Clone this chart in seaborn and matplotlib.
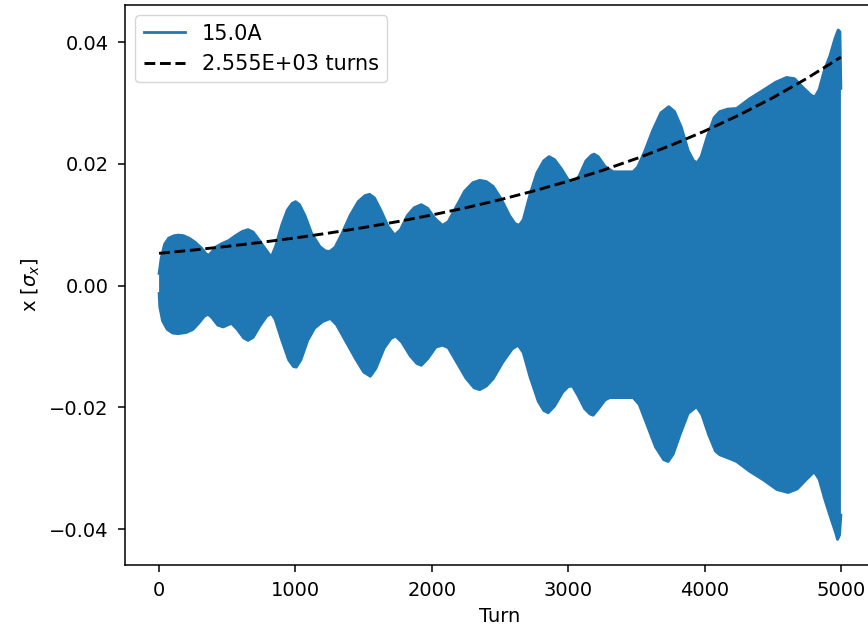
import numpy as np
import pandas as pd
import matplotlib
matplotlib.use("Agg")
import matplotlib.pyplot as plt
import seaborn as sns

# Upper envelope of the beam position trace (turn, x)
upper_turns = [0, 15, 40, 70, 110, 140, 180, 220, 260, 310, 345, 365, 385, 420, 460, 510, 560, 610,
               652, 690, 730, 780, 823, 855, 900, 940, 975, 1001, 1030, 1070, 1120, 1180, 1220, 1251,
               1290, 1340, 1400, 1460, 1510, 1544, 1580, 1630, 1680, 1728, 1770, 1820, 1870, 1923,
               1970, 2020, 2078, 2120, 2180, 2240, 2300, 2351, 2400, 2450, 2510, 2570, 2610, 2640,
               2670, 2720, 2770, 2820, 2860, 2900, 2950, 3000, 3036, 3080, 3130, 3170, 3190, 3220,
               3270, 3330, 3475, 3510, 3560, 3620, 3680, 3738, 3780, 3830, 3880, 3920, 3946, 3975,
               4020, 4070, 4112, 4170, 4235, 4330, 4430, 4520, 4601, 4660, 4720, 4780, 4809, 4840,
               4880, 4920, 4955, 4980, 4993, 5000]
upper_vals = [0.0020, 0.0045, 0.0068, 0.0078, 0.0082, 0.0083, 0.0082, 0.0078, 0.0072, 0.0062, 0.0052,
              0.0050, 0.0055, 0.0064, 0.0069, 0.0074, 0.0082, 0.0089, 0.0092, 0.0088, 0.0076, 0.0060,
              0.0047, 0.0065, 0.0100, 0.0124, 0.0135, 0.0138, 0.0133, 0.0115, 0.0085, 0.0064, 0.0057,
              0.0056, 0.0063, 0.0085, 0.0115, 0.0138, 0.0148, 0.0150, 0.0144, 0.0122, 0.0097, 0.0083,
              0.0092, 0.0115, 0.0128, 0.0133, 0.0127, 0.0111, 0.0099, 0.0105, 0.0130, 0.0155, 0.0169,
              0.0173, 0.0171, 0.0163, 0.0142, 0.0115, 0.0102, 0.0099, 0.0108, 0.0150, 0.0185, 0.0205,
              0.0212, 0.0207, 0.0192, 0.0174, 0.0168, 0.0180, 0.0205, 0.0214, 0.0216, 0.0212, 0.0196,
              0.0187, 0.0187, 0.0195, 0.0220, 0.0255, 0.0284, 0.0294, 0.0286, 0.0260, 0.0222, 0.0205,
              0.0202, 0.0212, 0.0245, 0.0276, 0.0286, 0.0290, 0.0291, 0.0307, 0.0321, 0.0334, 0.0342,
              0.0340, 0.0326, 0.0313, 0.0310, 0.0322, 0.0355, 0.0378, 0.0405, 0.0420, 0.0417, 0.0324]

# Lower envelope (turn, x)
lower_turns = [0, 5, 25, 60, 100, 138, 200, 248, 290, 330, 358, 385, 430, 470, 530, 570, 620, 652,
               690, 740, 790, 823, 850, 900, 950, 985, 1006, 1040, 1090, 1140, 1200, 1256, 1300, 1370,
               1440, 1500, 1549, 1590, 1650, 1700, 1735, 1780, 1840, 1890, 1923, 1970, 2030, 2078,
               2120, 2180, 2250, 2310, 2351, 2400, 2450, 2520, 2590, 2633, 2670, 2720, 2780, 2820,
               2853, 2900, 2960, 3000, 3031, 3070, 3120, 3160, 3183, 3220, 3270, 3305, 3476, 3520,
               3580, 3640, 3700, 3733, 3770, 3820, 3880, 3941, 3980, 4030, 4080, 4112, 4170, 4235,
               4330, 4430, 4530, 4613, 4680, 4740, 4804, 4840, 4880, 4930, 4960, 4975, 4990, 5000]
lower_vals = [-0.0013, -0.0035, -0.0058, -0.0072, -0.0078, -0.0079, -0.0077, -0.0072, -0.0062, -0.0051,
              -0.0047, -0.0052, -0.0065, -0.0068, -0.0062, -0.0071, -0.0086, -0.0090, -0.0085, -0.0066,
              -0.0050, -0.0046, -0.0055, -0.0090, -0.0122, -0.0133, -0.0134, -0.0122, -0.0090, -0.0070,
              -0.0059, -0.0054, -0.0064, -0.0092, -0.0120, -0.0142, -0.0149, -0.0136, -0.0103, -0.0087,
              -0.0083, -0.0093, -0.0115, -0.0128, -0.0131, -0.0120, -0.0101, -0.0098, -0.0102, -0.0125,
              -0.0152, -0.0168, -0.0171, -0.0165, -0.0153, -0.0126, -0.0104, -0.0098, -0.0110, -0.0150,
              -0.0190, -0.0205, -0.0209, -0.0198, -0.0175, -0.0166, -0.0165, -0.0180, -0.0202, -0.0211,
              -0.0213, -0.0203, -0.0188, -0.0184, -0.0184, -0.0195, -0.0230, -0.0265, -0.0286, -0.0289,
              -0.0277, -0.0245, -0.0210, -0.0199, -0.0212, -0.0245, -0.0272, -0.0278, -0.0283, -0.0289,
              -0.0305, -0.0319, -0.0335, -0.0340, -0.0334, -0.0320, -0.0306, -0.0318, -0.0350, -0.0385,
              -0.0405, -0.0417, -0.0410, -0.0377]

# Exponential growth fit
fit_turns = [0, 250, 500, 750, 1000, 1250, 1500, 1750, 2000, 2250, 2500, 2750, 3000, 3250, 3500,
             3750, 4000, 4250, 4500, 4750, 5000]
fit_vals = [0.00530, 0.00584, 0.00645, 0.00711, 0.00784, 0.00865, 0.00954, 0.01052, 0.01160, 0.01279,
            0.01411, 0.01556, 0.01716, 0.01892, 0.02087, 0.02301, 0.02538, 0.02799, 0.03086, 0.03404,
            0.03754]

signal_label = "15.0A"
fit_label = "2.555E+03 turns"
x_label = "Turn"
y_label = r"x [$\sigma_x$]"
x_ticks = [0, 1000, 2000, 3000, 4000, 5000]
y_ticks = [-0.04, -0.02, 0.00, 0.02, 0.04]

FS = 14
plt.rcParams.update({
    "font.family": ["DejaVu Sans"],
    "font.size": FS,
    "axes.linewidth": 1.1,
    "xtick.major.size": 5.3,
    "ytick.major.size": 5.3,
    "xtick.major.width": 1.1,
    "ytick.major.width": 1.1,
    "xtick.major.pad": 6.5,
    "ytick.major.pad": 6.5,
})

fig = plt.figure(figsize=(8.68, 6.27), dpi=100)
ax = fig.add_axes([125 / 868, 62 / 627, 750 / 868, 560 / 627])

blue = "#1f77b4"
up_df = pd.DataFrame({"turn": upper_turns, "x": upper_vals})
lo_df = pd.DataFrame({"turn": lower_turns, "x": lower_vals})
fit_df = pd.DataFrame({"turn": fit_turns, "x": fit_vals})

ax.fill(np.concatenate([up_df["turn"], lo_df["turn"][::-1]]),
        np.concatenate([up_df["x"], lo_df["x"][::-1]]),
        color=blue, linewidth=0, zorder=2)
sns.lineplot(data=up_df, x="turn", y="x", ax=ax, color=blue, linewidth=2.0, label=signal_label, zorder=2)
sns.lineplot(data=lo_df, x="turn", y="x", ax=ax, color=blue, linewidth=2.0, zorder=2)
sns.lineplot(data=fit_df, x="turn", y="x", ax=ax, color="black", linewidth=2.1,
             linestyle=(0, (3.7, 1.6)), label=fit_label, zorder=3)

ax.set_xlim(-250, 5250)
ax.set_ylim(-0.0459, 0.0461)
ax.set_xticks(x_ticks)
ax.set_yticks(y_ticks)
ax.set_xticklabels([str(t) for t in x_ticks])
ax.set_yticklabels([f"{t:.2f}".replace("-", "\u2212") for t in y_ticks])
ax.set_xlabel(x_label, fontsize=FS, labelpad=5)
ax.set_ylabel(y_label, fontsize=FS, labelpad=5)
ax.tick_params(labelsize=FS)
ax.spines["right"].set_visible(False)
ax.legend(loc="upper left", fontsize=15, handlelength=2.0, borderaxespad=0.5)

fig.savefig("out.png", dpi=100)
